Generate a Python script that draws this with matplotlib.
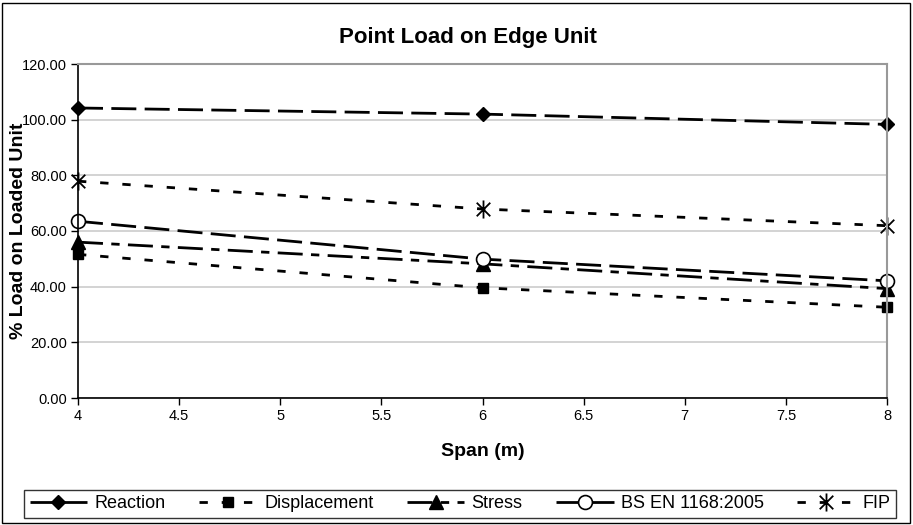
import numpy as np
import matplotlib
matplotlib.use('Agg')
import matplotlib.pyplot as plt
from matplotlib.patches import Rectangle
from matplotlib.path import Path

plt.rcParams['font.family'] = ['Liberation Sans', 'DejaVu Sans']

span = [4, 6, 8]
reaction = [104.2, 102.0, 98.3]
displacement = [51.6, 39.6, 32.6]
stress = [56.0, 48.2, 39.3]
bs_en = [63.5, 49.9, 42.1]
fip = [77.9, 67.9, 61.9]

# x with a vertical bar, like the Excel star marker
star = Path([(0, -1), (0, 1), (-0.75, -0.75), (0.75, 0.75), (-0.75, 0.75), (0.75, -0.75)],
            [Path.MOVETO, Path.LINETO, Path.MOVETO, Path.LINETO, Path.MOVETO, Path.LINETO])

fig = plt.figure(figsize=(9.13, 5.25), dpi=100)
ax = fig.add_axes([78 / 913, 1 - 398 / 525, 809 / 913, 334 / 525])

# outer chart border
fig.patches.append(Rectangle((2 / 913, 2 / 525), 908 / 913, 520 / 525,
                             transform=fig.transFigure, fill=False,
                             edgecolor='black', linewidth=1.0))

lw = 2.0
ax.plot(span, reaction, marker='D', markersize=7, color='black', linewidth=lw,
        dashes=(9, 3), label='Reaction', clip_on=False)
ax.plot(span, displacement, marker='s', markersize=7, color='black', linewidth=lw,
        dashes=(3, 5), label='Displacement', clip_on=False)
ax.plot(span, stress, marker='^', markersize=10, color='black', linewidth=lw,
        dashes=(9, 3, 3, 3), label='Stress', clip_on=False)
ax.plot(span, bs_en, marker='o', markersize=10, color='black', linewidth=lw,
        markerfacecolor='white', markeredgewidth=1.2, dashes=(9, 3),
        label='BS EN 1168:2005', clip_on=False)
ax.plot(span, fip, marker=star, markersize=13, color='black', linewidth=lw,
        markerfacecolor='none', markeredgewidth=1.3, dashes=(3, 5),
        label='FIP', clip_on=False)

ax.set_xlim(4, 8)
ax.set_ylim(0, 120)
ax.set_xticks(np.arange(4, 8.01, 0.5))
ax.set_xticklabels(['4', '4.5', '5', '5.5', '6', '6.5', '7', '7.5', '8'])
ax.set_yticks(np.arange(0, 121, 20))
ax.set_yticklabels(['%.2f' % v for v in np.arange(0, 121, 20)])
ax.yaxis.grid(True, color='#cccccc', linewidth=1.2)
ax.set_axisbelow(True)
ax.tick_params(labelsize=10.5, length=5, direction='out', width=1, pad=3)

for s in ['top', 'right']:
    ax.spines[s].set_color('#999999')
    ax.spines[s].set_linewidth(1.5)
for s in ['left', 'bottom']:
    ax.spines[s].set_color('black')
    ax.spines[s].set_linewidth(1.2)

fig.text(468 / 913, 1 - 38 / 525, 'Point Load on Edge Unit', fontsize=16,
         fontweight='bold', ha='center', va='center')
ax.set_xlabel('Span (m)', fontsize=14, fontweight='bold', labelpad=14)
fig.text(19 / 913, 1 - 231 / 525, '% Load on Loaded Unit', fontsize=14,
         fontweight='bold', rotation=90, ha='center', va='center')

leg = fig.legend(loc='center', ncol=5,
                 bbox_to_anchor=(460 / 913, 1 - 504 / 525),
                 bbox_transform=fig.transFigure,
                 fontsize=13, frameon=True, fancybox=False, edgecolor='black',
                 handlelength=3.2, handletextpad=0.4, columnspacing=1.85,
                 borderpad=0.3)
leg.get_frame().set_linewidth(1.0)

fig.savefig('out.png', dpi=100)
